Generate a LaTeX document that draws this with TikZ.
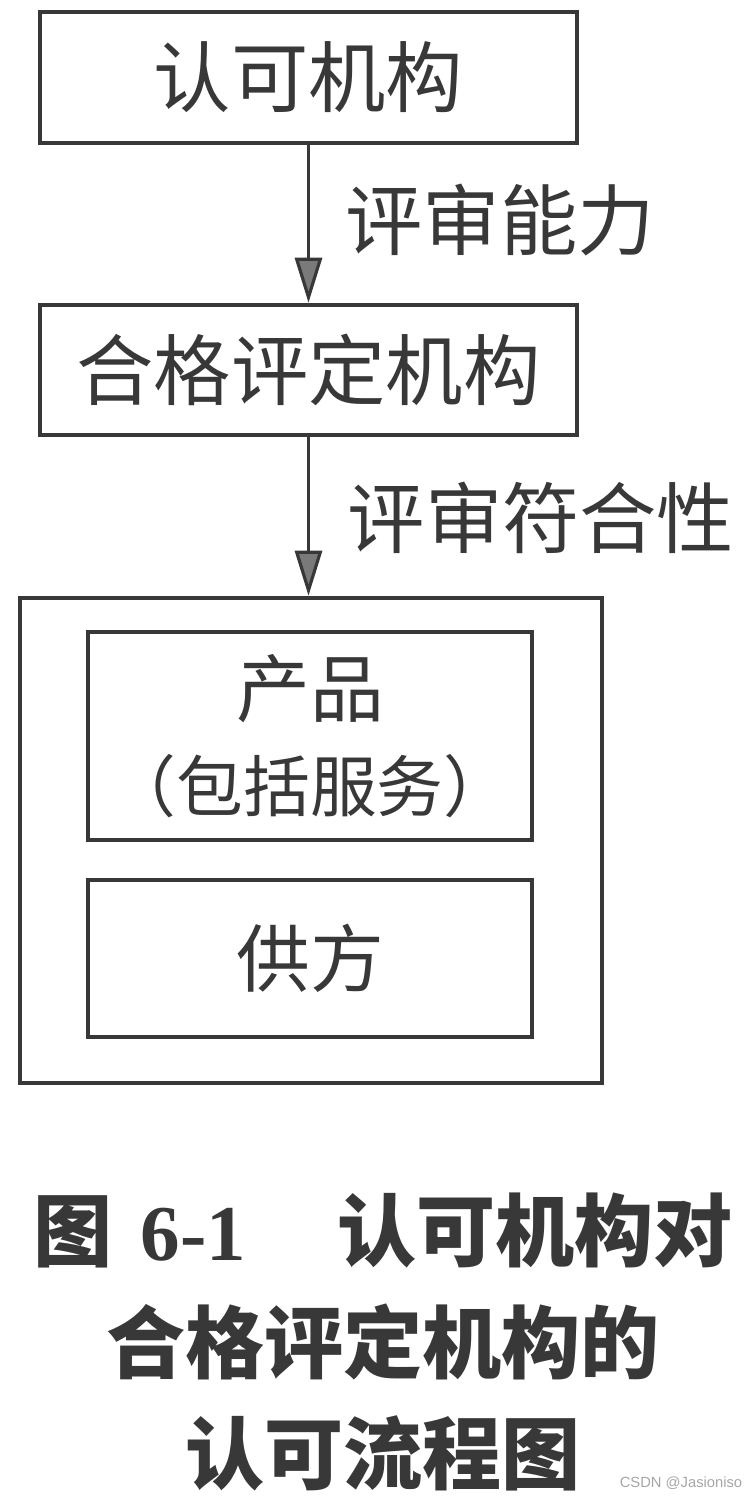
\documentclass[tikz,border=0pt]{standalone}
\usepackage{fontspec}
\newfontfamily\cjk{Noto Sans CJK SC}
\newfontfamily\numfont{Liberation Serif}
\setsansfont{Liberation Sans}
\usetikzlibrary{arrows.meta}
\definecolor{inkgray}{HTML}{383838}
\definecolor{headgray}{HTML}{7A7A7A}
\begin{document}
\begin{tikzpicture}[
        every node/.style={text=inkgray},
        box/.style={draw=inkgray, line width=1.3pt, minimum width=5.37cm, minimum height=1.31cm, font=\cjk\fontsize{22}{26}\selectfont},
        innerbox/.style={draw=inkgray, line width=1.3pt, minimum width=4.44cm, align=center},
        label/.style={font=\cjk\fontsize{22}{26}\selectfont},
        arrow/.style={-{Triangle[length=4.5mm, width=2.7mm, fill=headgray]}, draw=inkgray, line width=0.9pt}
        ]
        \useasboundingbox (0,0) rectangle (7.5,-15.01);

        \node[box] (accbody) at (3.085, -0.775) {认可机构};
        \node[box, minimum height=1.30cm] (cabody) at (3.085, -3.70) {合格评定机构};

        \node[draw=inkgray, line width=1.3pt, minimum width=5.82cm, minimum height=4.85cm] (scope) at (3.11, -8.405) {};
        \node[innerbox, minimum height=2.08cm, font=\cjk\fontsize{21}{25}\selectfont] (product) at (3.10, -7.36) {产品\\[2pt]{\fontsize{19}{19}\selectfont （包括服务）}};
        \node[innerbox, minimum height=1.57cm, font=\cjk\fontsize{21}{25}\selectfont] (supplier) at (3.10, -9.585) {供方};

        \draw[arrow] (accbody.south) -- (cabody.north);
        \draw[arrow] (cabody.south) -- (cabody.south |- scope.north);

        \node[label] (competence) at (5.00, -2.20) {评审能力};
        \node[label] (conformity) at (5.41, -5.18) {评审符合性};

        % caption
        \node[align=center, font=\cjk\bfseries\fontsize{22.5}{31.8}\selectfont] (caption) at (3.83, -13.42)
            {图\hspace{8pt}{\numfont\bfseries 6-1}\hspace{26pt}认可机构对\\合格评定机构的\\认可流程图};
        \node[font=\sffamily\fontsize{4.2}{5}\selectfont, text=black!35] (mark) at (6.81, -14.83) {CSDN @Jasioniso};
    \end{tikzpicture}
\end{document}
